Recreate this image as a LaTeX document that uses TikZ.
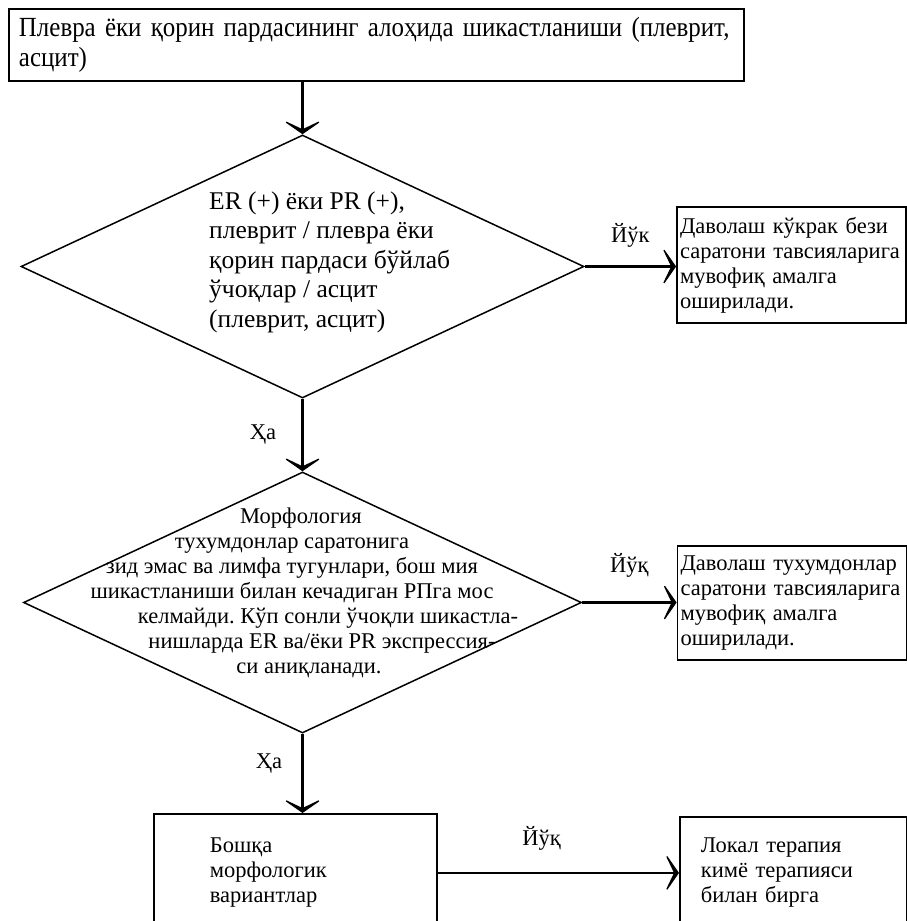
\documentclass[tikz,border=0pt]{standalone}
\usepackage{fontspec}
\setmainfont{Liberation Serif}
\newfontfamily\narrowserif{Liberation Serif}[FakeStretch=0.9]
\usepackage{tikz}
\usetikzlibrary{arrows.meta,positioning,shapes.geometric,calc}
\newcommand\topfont{\narrowserif\fontsize{27.7}{30}\selectfont}
\newcommand\askfont{\fontsize{25.5}{29.5}\selectfont}
\newcommand\bodyfont{\fontsize{22.5}{25}\selectfont}
\frenchspacing
\tikzset{
  box/.style={draw,line width=1.8pt,inner ysep=0pt,align=left,font=\bodyfont},
  ask/.style={diamond,draw,line width=1.5pt,inner sep=0pt},
  asktext/.style={inner sep=0pt},
  arrow/.style={-{Stealth[length=16pt,width=46pt,inset=11pt]},line width=2.6pt},
  lbl/.style={font=\bodyfont,inner sep=0pt},
}
\begin{document}
\begin{tikzpicture}[x=1pt,y=-1pt]
    \useasboundingbox (0,0) rectangle (907,921);
    \node[box,font=\topfont,text width=715pt,inner xsep=10pt,minimum height=72pt] (start) at (376.5,45) {Плевра ёки қорин пардасининг алоҳида шикастланиши (плеврит,\\асцит)};
    \node[ask,minimum width=563pt,minimum height=263pt] (q1) at (302.5,266.5) {};
    \node[asktext,font=\askfont,align=left,anchor=west] (q1txt) at (209,262) {ER (+) ёки PR (+),\\плеврит / плевра ёки\\қорин пардаси бўйлаб\\ўчоқлар / асцит\\(плеврит, асцит)};
    \node[box,text width=223pt,inner xsep=3pt,minimum height=116pt] (r1) at (791.5,265) {Даволаш кўкрак бези\\саратони тавсияларига\\мувофиқ амалга\\оширилади.};
    \node[ask,minimum width=558pt,minimum height=261pt] (q2) at (302.5,602.5) {};
    \node[asktext,font=\bodyfont,align=center] (q2txt) at (292,593) {\hspace*{18pt}Морфология\\тухумдонлар саратонига\\зид эмас ва лимфа тугунлари, бош мия\\шикастланиши билан кечадиган РПга мос\\\hspace*{72pt}келмайди. Кўп сонли ўчоқли шикастла-\\\hspace*{60pt}нишларда ER ва/ёки PR экспрессия-\\\hspace*{34pt}си аниқланади.};
    \node[box,text width=223pt,inner xsep=3pt,minimum height=114pt] (r2) at (792,603) {Даволаш тухумдонлар\\саратони тавсияларига\\мувофиқ амалга\\оширилади.};
    \node[box,text width=171pt,inner xsep=56pt,minimum height=118pt,anchor=north west] (b1) at (153,813) {Бошқа\\морфологик\\вариантлар};
    \node[box,text width=185pt,inner xsep=21pt,minimum height=112pt,anchor=north west] (b2) at (679,816) {Локал терапия\\кимё терапияси\\билан бирга};

    \draw[arrow] (start.south -| q1.north) -- (q1.north);
    \draw[arrow] (q1.south) -- node[lbl,left=25pt] (ha1) {Ҳа} (q2.north);
    \draw[arrow] (q1.east) -- node[lbl,above=18pt] (no1) {Йўк} (q1.east -| r1.west);
    \draw[arrow] (q2.east) -- node[lbl,above=24pt] (no2) {Йўқ} (q2.east -| r2.west);
    \draw[arrow] (q2.south) -- node[lbl,pos=0.38,left=19pt] (ha2) {Ҳа} (q2.south |- b1.north);
    \draw[arrow] (b1.east) -- node[lbl,pos=0.43,above=21pt] (no3) {Йўқ} (b1.east -| b2.west);
\end{tikzpicture}
\end{document}
